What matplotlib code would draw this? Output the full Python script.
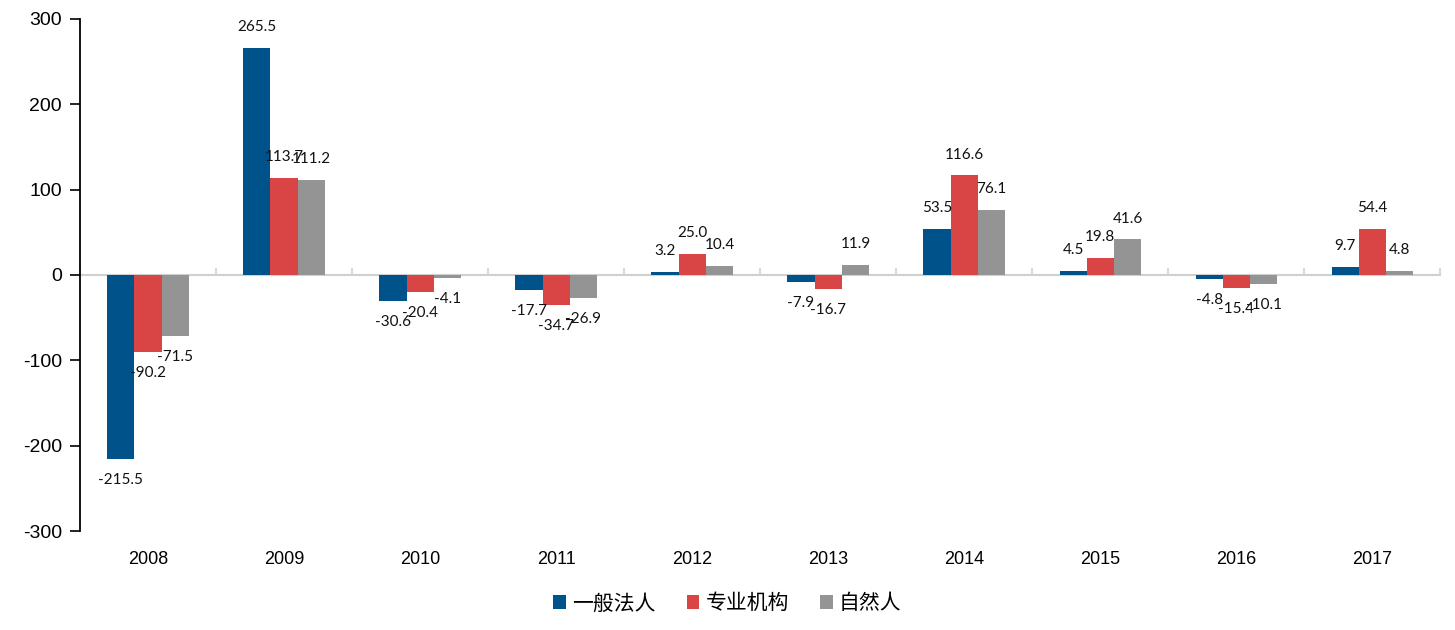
import numpy as np
import matplotlib.pyplot as plt

# Data
years = ['2008', '2009', '2010', '2011', '2012', '2013', '2014', '2015', '2016', '2017']
general = [-215.5, 265.5, -30.6, -17.7, 3.2, -7.9, 53.5, 4.5, -4.8, 9.7]
institution = [-90.2, 113.7, -20.4, -34.7, 25.0, -16.7, 116.6, 19.8, -15.4, 54.4]
individual = [-71.5, 111.2, -4.1, -26.9, 10.4, 11.9, 76.1, 41.6, -10.1, 4.8]
series_names = ['一般法人', '专业机构', '自然人']
colors = ['#00538A', '#D94545', '#949494']

fig = plt.figure(figsize=(14.55, 6.3), dpi=100)
ax = fig.add_axes([0.055, 0.157, 0.935, 0.813])

x = np.arange(len(years))
w = 0.2
for i, (vals, name, c) in enumerate(zip([general, institution, individual], series_names, colors)):
    pos = x + (i - 1) * w
    ax.bar(pos, vals, width=w, color=c, label=name, zorder=3)
    # Data labels
    for px, v in zip(pos, vals):
        off = 10 if v >= 0 else -10
        ax.annotate(f'{v:.1f}', (px, v), xytext=(0, off), textcoords='offset points',
                    ha='center', va='bottom' if v >= 0 else 'top',
                    fontsize=11, family='Lato', color='#111111', zorder=4)

ax.set_xlim(-0.5, len(years) - 0.5)
ax.set_ylim(-300, 300)
ax.set_yticks(range(-300, 301, 100))
ax.set_yticklabels([str(v) for v in range(-300, 301, 100)], family='Liberation Sans', fontsize=14)
ax.tick_params(axis='y', direction='out', length=7, width=1.2, color='black', pad=6)

ax.set_xticks(x)
ax.set_xticklabels(years, family='Liberation Sans', fontsize=13)
ax.tick_params(axis='x', length=0, pad=14)

for s in ['top', 'right', 'bottom']:
    ax.spines[s].set_visible(False)
ax.spines['left'].set_linewidth(1.3)

# Zero line with category separators
zero = ax.secondary_xaxis(0.5)
for sp in zero.spines.values():
    sp.set_edgecolor('#D0D0D0')
    sp.set_linewidth(1.5)
zero.set_xticks(np.arange(-0.5, len(years), 1.0))
zero.set_xticklabels([])
zero.tick_params(axis='x', direction='out', length=5, width=1.2, color='#D0D0D0',
                 labeltop=False, labelbottom=False)

leg = fig.legend(loc='lower center', bbox_to_anchor=(0.5, -0.005), ncol=3, frameon=False,
                 prop={'family': ['Noto Sans CJK SC', 'DejaVu Sans'], 'size': 15},
                 handlelength=0.6, handleheight=0.6, handletextpad=0.3, columnspacing=1.5)

fig.savefig('out.png', dpi=100)
